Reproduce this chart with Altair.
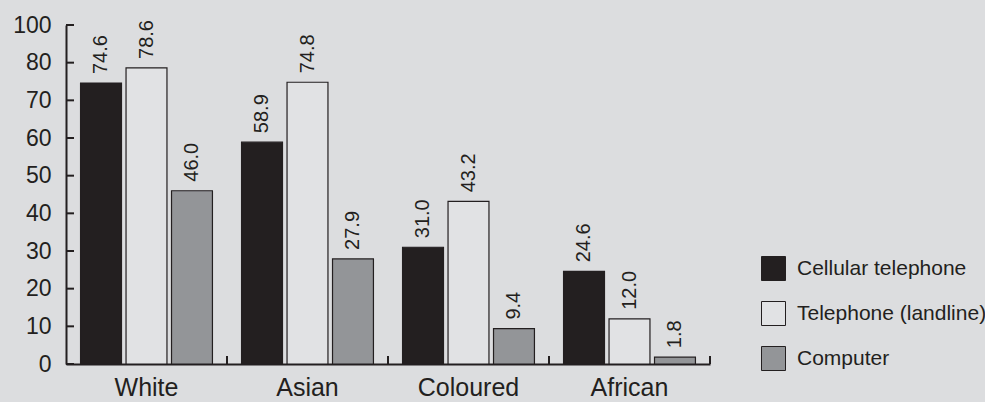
import altair as alt
import pandas as pd

# Household access to communication technology, by population group (%)
groups = ["White", "Asian", "Coloured", "African"]
series = ["Cellular telephone", "Telephone (landline)", "Computer"]
cellular = [74.6, 58.9, 31.0, 24.6]
landline = [78.6, 74.8, 43.2, 12.0]
computer = [46.0, 27.9, 9.4, 1.8]

y_ticks = [0, 10, 20, 30, 40, 50, 60, 70, 80, 90]

fills = ["#231f20", "#e1e2e4", "#939598"]
ink = "#231f20"
bg = "#dcdddf"
font = "Liberation Sans"

rows = []
for i, g in enumerate(groups):
    for s, vals in zip(series, [cellular, landline, computer]):
        rows.append({"group": g, "series": s, "value": vals[i], "label": f"{vals[i]:.1f}"})
df = pd.DataFrame(rows)

W, H = 644, 339

# shared axis / scale definitions so every layer merges into one axis
x_axis = alt.Axis(title=None, ticks=False, labelAngle=0, labelFontSize=25,
                  labelFont=font, labelColor=ink, labelPadding=11,
                  domainColor=ink, domainWidth=2)
x_scale = alt.Scale(paddingInner=0, paddingOuter=0)
y_axis = alt.Axis(title=None, ticks=False, values=y_ticks, grid=False,
                  labelOverlap=False,
                  labelFontSize=23, labelFont=font, labelColor=ink, labelPadding=15,
                  labelExpr="datum.value == 90 ? '100' : datum.label",
                  domainColor=ink, domainWidth=2)
y_scale = alt.Scale(domain=[0, 90], nice=False, zero=True)


def xg(**kw):
    return alt.X("group:N", sort=groups, scale=x_scale, axis=x_axis, **kw)


def yv():
    return alt.Y("value:Q", scale=y_scale, axis=y_axis)


xoff = alt.XOffset("series:N", sort=series,
                   scale=alt.Scale(paddingInner=0.1, paddingOuter=0.32))

bars = alt.Chart(df).mark_bar(stroke=ink, strokeWidth=1.2).encode(
    x=xg(),
    xOffset=xoff,
    y=yv(),
    color=alt.Color("series:N", sort=series,
                    scale=alt.Scale(domain=series, range=fills),
                    legend=alt.Legend(title=None, orient="none", legendX=695, legendY=231,
                                      symbolType="square", symbolSize=576,
                                      symbolStrokeColor=ink, symbolStrokeWidth=1,
                                      symbolOpacity=1,
                                      labelFontSize=21, labelFont=font, labelColor=ink,
                                      labelOffset=11, rowPadding=16, padding=0,
                                      labelLimit=300)),
)

# rotated value labels sitting just above each bar
labels = alt.Chart(df).mark_text(angle=270, align="left", baseline="middle", dx=9,
                                 fontSize=20, font=font, color=ink).encode(
    x=xg(),
    xOffset=xoff,
    y=yv(),
    text="label:N",
)

# inward-pointing ticks on the value axis
ytick_df = pd.DataFrame({"value": y_ticks})
yticks = alt.Chart(ytick_df).mark_rule(color=ink, strokeWidth=2).encode(
    y=yv(), x=alt.value(0), x2=alt.value(8))

# upward ticks on the category axis between groups and at its end
sep_df = pd.DataFrame({"group": groups[1:]})
end_df = pd.DataFrame({"group": groups[-1:]})
sep_ticks = alt.Chart(sep_df).mark_rule(color=ink, strokeWidth=2).encode(
    x=xg(bandPosition=0), y=alt.value(H), y2=alt.value(H - 8))
end_tick = alt.Chart(end_df).mark_rule(color=ink, strokeWidth=2).encode(
    x=xg(bandPosition=1), y=alt.value(H), y2=alt.value(H - 8))

chart = alt.layer(bars, labels, yticks, sep_ticks, end_tick).properties(
    width=W, height=H,
    background=bg,
    padding={"left": 66, "top": 25, "right": 275, "bottom": 38},
    autosize=alt.AutoSizeParams(type="none"),
).configure_view(stroke=None)

chart.save("out.html", embed_options={"renderer": "svg", "actions": False})
